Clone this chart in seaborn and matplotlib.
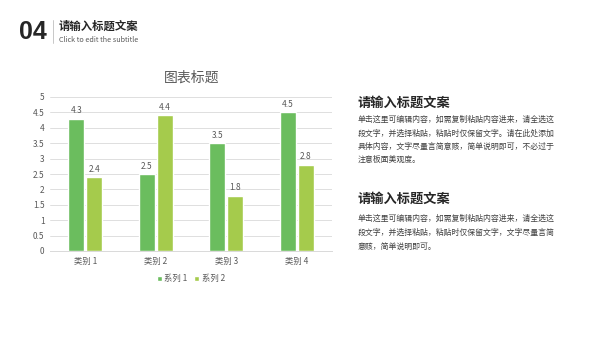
import matplotlib
matplotlib.use("Agg")
import matplotlib.pyplot as plt
from matplotlib.lines import Line2D
import seaborn as sns
import pandas as pd

# SECTION - DATA
categories = ["类别 1", "类别 2", "类别 3", "类别 4"]
series_names = ["系列 1", "系列 2"]
series_1 = [4.3, 2.5, 3.5, 4.5]
series_2 = [2.4, 4.4, 1.8, 2.8]
y_ticks = [0, 0.5, 1, 1.5, 2, 2.5, 3, 3.5, 4, 4.5, 5]
colors = ["#6BBD5E", "#A5CB4C"]

header_num = "04"
header_title = "请输入标题文案"
header_sub = "Click to edit the subtitle"
chart_title = "图表标题"
block_title = "请输入标题文案"
block_1_lines = [
    "单击这里可编辑内容，如需复制粘贴内容进来，请全选这",
    "段文字，并选择粘贴，粘贴时仅保留文字。请在此处添加",
    "具体内容，文字尽量言简意赅，简单说明即可，不必过于",
    "注意板面美观度。",
]
block_2_lines = [
    "单击这里可编辑内容，如需复制粘贴内容进来，请全选这",
    "段文字，并选择粘贴，粘贴时仅保留文字，文字尽量言简",
    "意赅，简单说明即可。",
]

df = pd.DataFrame({
    "category": categories * 2,
    "series": [series_names[0]] * 4 + [series_names[1]] * 4,
    "value": series_1 + series_2,
})

# SECTION - STYLE
sns.set_style("white")
plt.rcParams["font.family"] = ["Noto Sans CJK SC", "DejaVu Sans"]

W, H = 600, 338
fig = plt.figure(figsize=(6, 3.38), dpi=100)


def fx(px):
    return px / W


def fy(py):
    return 1 - py / H


# SECTION - HEADER
fig.text(fx(19), fy(32), header_num, fontsize=18, fontweight="bold",
         color="#262626", va="center", ha="left", family="Liberation Sans")
fig.add_artist(Line2D([fx(53), fx(53)], [fy(20), fy(43)], color="#bfbfbf", lw=0.6))
fig.text(fx(59), fy(26), header_title, fontsize=8.2, fontweight="bold",
         color="#262626", va="center", ha="left")
fig.text(fx(59), fy(40), header_sub, fontsize=5.2, color="#595959",
         va="center", ha="left")

# SECTION - CHART
ax = fig.add_axes([fx(50), fy(251), fx(282), 154 / H])
sns.barplot(data=df, x="category", y="value", hue="series", palette=colors,
            width=0.51, gap=0.12, saturation=1, ax=ax)
for cont in ax.containers:
    ax.bar_label(cont, fmt="%.1f", padding=2.5, fontsize=6, color="#595959")

ax.set_ylim(0, 5)
ax.set_xlim(-0.5, 3.5)
ax.set_yticks(y_ticks)
ax.set_yticklabels([f"{t:g}" for t in y_ticks])
ax.yaxis.grid(True, color="#d9d9d9", lw=0.6)
ax.set_axisbelow(True)
for s in ["top", "right", "left"]:
    ax.spines[s].set_visible(False)
ax.spines["bottom"].set_color("#d9d9d9")
ax.spines["bottom"].set_linewidth(0.7)
ax.tick_params(axis="both", length=0, labelsize=6, colors="#595959", pad=4)
ax.set_xlabel("")
ax.set_ylabel("")
ax.legend(loc="center", bbox_to_anchor=(0.5, -0.18), ncol=2, frameon=False,
          fontsize=6, labelcolor="#595959", handlelength=0.6, handleheight=0.6,
          handletextpad=0.3, columnspacing=0.8)

fig.text(fx(192), fy(78), chart_title, fontsize=10, color="#595959",
         ha="center", va="center")

# SECTION - RIGHT TEXT BLOCKS
def text_block(title_y, line_ys, lines):
    fig.text(fx(358), fy(title_y), block_title, fontsize=9.5, fontweight="bold",
             color="#262626", ha="left", va="center")
    for y, line in zip(line_ys, lines):
        fig.text(fx(358), fy(y), line, fontsize=5.7, color="#404040",
                 ha="left", va="center")


text_block(103, [119, 133, 146, 159], block_1_lines)
text_block(199, [218, 232, 246], block_2_lines)

fig.savefig("out.png", dpi=100, facecolor="white")
